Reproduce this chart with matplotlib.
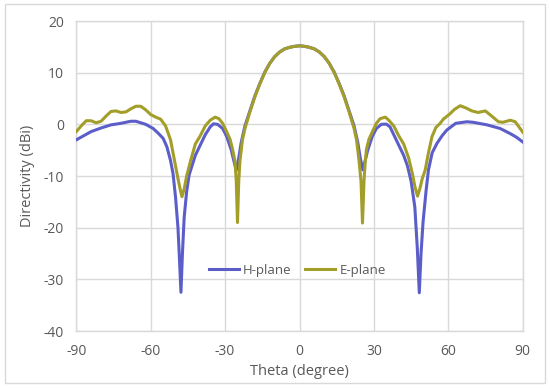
import matplotlib
matplotlib.use("Agg")
import matplotlib.pyplot as plt
from matplotlib.patches import Rectangle

# ---- data ----
theta_h = [-90, -87, -84, -80, -76, -72, -68, -66, -62, -59, -57, -55, -53.5, -52, -51, -50, -49,
           -48.5, -47.8, -47.2, -46.5, -45.5, -44.5, -43, -42, -40, -38, -36, -34.7, -33, -31,
           -29.3, -27.5, -26.5, -25.5, -24.5, -23.5, -22, -20, -18, -16, -14, -12, -10, -8, -6,
           -4, -2, 0,
           2, 4, 6, 8, 10, 12, 14, 16, 18, 20, 22, 23.5, 24.5, 25.5, 26.5, 27.5, 29.3, 31, 33,
           35, 36.5, 38, 40, 42, 43.5, 45, 46.5, 47.5, 48.3, 49, 49.8, 51, 52, 53.5, 55.4, 57.5,
           59.4, 63, 67.5, 70, 75.6, 80.9, 85, 87.5, 90]
h_plane = [-3.0, -2.2, -1.4, -0.7, -0.1, 0.2, 0.6, 0.6, 0.0, -0.8, -1.7, -2.7, -4.3, -7.0, -9.5,
           -14.0, -20.0, -25.0, -32.5, -25.0, -18.0, -13.0, -9.8, -7.5, -6.0, -4.0, -2.0, -0.5,
           0.1, 0.0, -0.8, -2.4, -5.0, -7.0, -8.9, -6.5, -3.5, -0.3, 2.6, 5.5, 7.9, 10.1, 11.8,
           13.1, 14.0, 14.6, 14.9, 15.1, 15.2,
           15.1, 14.9, 14.6, 14.0, 13.1, 11.8, 10.1, 7.9, 5.5, 2.6, -0.3, -3.5, -6.5, -8.8, -7.0,
           -5.0, -2.4, -0.8, 0.0, 0.05, -0.5, -2.0, -4.0, -6.0, -8.0, -11.0, -16.0, -24.0,
           -32.6, -25.0, -19.0, -13.0, -8.8, -5.5, -3.7, -2.2, -1.1, 0.2, 0.5, 0.4, -0.1, -0.8,
           -1.8, -2.5, -3.4]

theta_e = [-90, -88, -86, -84, -82, -80, -78, -76, -74, -72, -70, -68, -66, -64, -62, -60, -58,
           -56, -54, -52, -51, -50, -49, -48, -47.4, -46.5, -45.5, -44, -42, -40, -38, -36, -34,
           -32.5, -31, -29.5, -28, -27, -26, -25.5, -25, -24.5, -24, -23, -22, -20, -18, -16,
           -14, -12, -10, -8, -6, -4, -2, 0,
           2, 4, 6, 8, 10, 12, 14, 16, 18, 20, 22, 23, 24, 24.8, 25.4, 26, 26.5, 27, 28, 29.5,
           31, 32.5, 34.6, 36, 38, 40, 42, 44, 45.5, 46.5, 47.6, 48.5, 49.5, 50.7, 52, 53.4,
           55, 56.7, 58, 60.8, 62.5, 64.8, 67, 69.5, 72, 74.9, 77, 80.2, 82, 85, 87, 90]
e_plane = [-1.4, -0.3, 0.7, 0.7, 0.3, 0.6, 1.6, 2.5, 2.6, 2.3, 2.4, 3.0, 3.5, 3.5, 2.8, 1.9, 1.4,
           1.0, -0.3, -3.0, -5.5, -8.0, -10.5, -12.8, -14.0, -12.5, -10.0, -7.2, -3.8, -2.2,
           -0.3, 0.8, 1.4, 1.1, 0.2, -1.3, -2.9, -4.8, -7.2, -11.0, -19.0, -11.0, -7.0, -3.0,
           -0.8, 2.4, 5.3, 7.8, 10.0, 11.8, 13.1, 14.0, 14.6, 14.9, 15.1, 15.2,
           15.1, 14.9, 14.6, 14.0, 13.1, 11.8, 10.0, 7.8, 5.3, 2.4, -0.8, -3.0, -7.0, -11.0,
           -19.1, -11.0, -7.2, -4.8, -2.9, -1.3, 0.2, 1.1, 1.4, 0.8, -0.3, -2.2, -3.8, -6.5,
           -9.5, -12.0, -13.9, -12.5, -10.5, -8.8, -5.5, -2.4, -0.6, 0.2, 1.0, 2.1, 2.9, 3.6,
           3.2, 2.6, 2.3, 2.6, 1.8, 0.5, 0.4, 0.8, 0.5, -1.5]

x_ticks = [-90, -60, -30, 0, 30, 60, 90]
y_ticks = [-40, -30, -20, -10, 0, 10, 20]

TEXT = "#595959"
GRID = "#D9D9D9"

plt.rcParams['font.family'] = ['Open Sans', 'DejaVu Sans']
plt.rcParams['axes.unicode_minus'] = False

fig = plt.figure(figsize=(5.5, 3.89), dpi=100)
ax = fig.add_axes([0.1387, 0.149, 0.9504 - 0.1387, 0.946 - 0.149])

ax.plot(theta_h, h_plane, color="#5B5EC9", lw=2.2, label="H-plane", zorder=3,
        solid_joinstyle="round")
ax.plot(theta_e, e_plane, color="#A39E2A", lw=2.2, label="E-plane", zorder=3,
        solid_joinstyle="round")

ax.set_xlim(-90, 90)
ax.set_ylim(-40, 20)
ax.set_xticks(x_ticks)
ax.set_yticks(y_ticks)
ax.grid(True, color=GRID, lw=1.0)
ax.set_axisbelow(True)
for s in ax.spines.values():
    s.set_color(GRID)
    s.set_linewidth(1.0)
ax.tick_params(length=0, pad=9, labelsize=10, labelcolor=TEXT)

ax.set_xlabel("Theta (degree)", fontsize=10.5, color=TEXT, labelpad=4)
ax.set_ylabel("Directivity (dBi)", fontsize=10.5, color=TEXT, labelpad=6)

leg = ax.legend(loc="center", bbox_to_anchor=(0.495, 0.195), ncol=2, frameon=False,
                fontsize=9.5, handlelength=2.3, handletextpad=0.3, columnspacing=1.0)
for t in leg.get_texts():
    t.set_color(TEXT)

fig.patches.append(Rectangle((5 / 550, 1 - 383 / 389), 540 / 550, 379 / 389,
                             transform=fig.transFigure, fill=False,
                             edgecolor=GRID, lw=1.0))

fig.savefig("out.png", dpi=100)
